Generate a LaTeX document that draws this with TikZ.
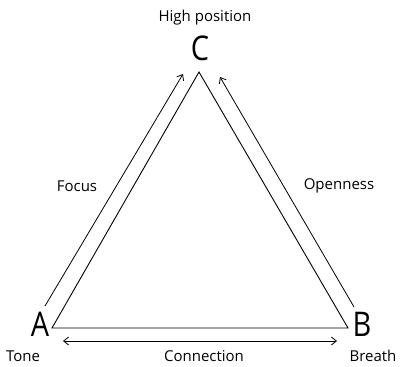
\documentclass[tikz,border=0pt]{standalone}
\usepackage{fontspec}
\setmainfont{Open Sans}
\usetikzlibrary{arrows.meta, positioning}

\begin{document}
\begin{tikzpicture}[x=1pt, y=-1pt,
    corner/.style={font=\fontsize{34}{34}\selectfont\addfontfeatures{FakeStretch=0.85}, inner sep=0pt},
    lbl/.style={font=\fontsize{15}{17}\selectfont, inner sep=0pt},
    side/.style={line width=0.9pt},
    barb/.tip={Straight Barb[length=5pt, width=8pt]},
    flow/.style={line width=0.8pt, -barb}]
    \useasboundingbox (0,0) rectangle (405,367);
    % corners of the triangle
    \coordinate (tA) at (52,328);
    \coordinate (tB) at (348,328);
    \coordinate (tC) at (199,72);
    \draw[side] (tA) -- (tB) -- (tC) -- cycle;
    % letters
    \node[corner] (A) at (40,324) {A};
    \node[corner] (B) at (362,324) {B};
    \node[corner] (C) at (200,48) {C};
    \node[lbl] (tone) at (23,356) {Tone};
    \node[lbl] (breath) at (373,356) {Breath};
    \node[lbl] (high) at (205,18) {High position};
    \node[lbl] (focus) at (77,186) {Focus};
    \node[lbl] (open) at (339,186) {Openness};
    \node[lbl] (conn) at (204,356) {Connection};
    % arrows
    \coordinate (fS) at (45,306);
    \coordinate (fE) at (183,74);
    \coordinate (oS) at (354,307);
    \coordinate (oE) at (220,77);
    \coordinate (cS) at (63,341);
    \coordinate (cE) at (337,341);
    \draw[flow] (fS) -- (fE);
    \draw[flow] (oS) -- (oE);
    \draw[flow, barb-barb] (cS) -- (cE);
\end{tikzpicture}
\end{document}
